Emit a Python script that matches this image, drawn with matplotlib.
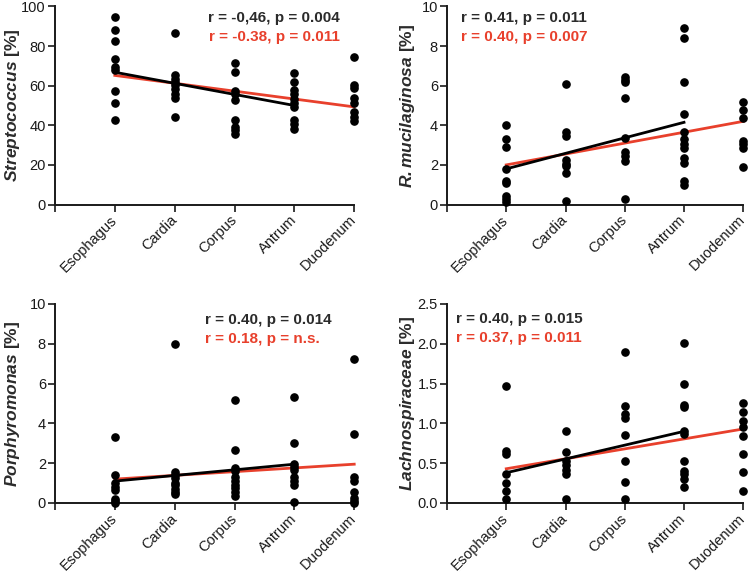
import matplotlib
matplotlib.use("Agg")
import matplotlib.pyplot as plt
import matplotlib.transforms as mtransforms

plt.rcParams["font.family"] = ["Liberation Sans", "DejaVu Sans"]
plt.rcParams["mathtext.fontset"] = "custom"
plt.rcParams["mathtext.bfit"] = "Liberation Sans:italic:bold"
plt.rcParams["mathtext.it"] = "Liberation Sans:italic"
plt.rcParams["mathtext.rm"] = "Liberation Sans"

# ── data ──────────────────────────────────────────────────────────────────────
sites = ["Esophagus", "Cardia", "Corpus", "Antrum", "Duodenum"]

strep = [
    [94.5, 88, 82.5, 73.5, 69.5, 68, 57.5, 51.5, 42.5],
    [86.5, 65.5, 63.5, 62, 60.5, 58.5, 56, 54, 44],
    [71.5, 67, 57.5, 56, 53, 42.5, 39, 37.5, 35.5],
    [66.5, 62, 58, 56, 53.5, 51.5, 49, 42.5, 40.5, 38],
    [74.5, 60.5, 59, 54, 51.5, 46.5, 44, 42],
]
strep_black = [66.8, 50.0]   # fit Esophagus..Antrum
strep_red = [65.2, 49.3]     # fit Esophagus..Duodenum

rmuc = [
    [4.0, 3.3, 2.9, 1.8, 1.2, 1.1, 0.45, 0.3, 0.15],
    [6.1, 3.65, 3.45, 2.25, 2.05, 1.95, 1.6, 0.2],
    [6.45, 6.3, 6.2, 5.4, 3.35, 2.65, 2.45, 2.2, 0.3],
    [8.9, 8.4, 6.2, 4.55, 3.65, 3.3, 3.05, 2.85, 2.35, 2.1, 1.2, 1.0],
    [5.2, 4.75, 4.35, 3.2, 3.05, 2.85, 1.9],
]
rmuc_black = [1.8, 4.15]
rmuc_red = [2.0, 4.2]

porph = [
    [3.3, 1.4, 1.0, 0.8, 0.65, 0.2, 0.1, 0.0],
    [8.0, 1.55, 1.4, 1.25, 1.0, 0.9, 0.7, 0.55, 0.45],
    [5.2, 2.65, 1.75, 1.6, 1.3, 1.1, 0.9, 0.75, 0.55, 0.35],
    [5.35, 3.0, 1.95, 1.8, 1.65, 1.3, 1.1, 0.9, 0.05],
    [7.25, 3.45, 1.3, 1.1, 0.55, 0.25, 0.1, 0.0],
]
porph_black = [1.1, 1.95]
porph_red = [1.2, 1.95]

lachno = [
    [1.47, 0.65, 0.61, 0.36, 0.25, 0.15, 0.05],
    [0.91, 0.64, 0.53, 0.48, 0.42, 0.36, 0.05],
    [1.9, 1.22, 1.12, 1.07, 0.85, 0.53, 0.27, 0.05],
    [2.01, 1.5, 1.23, 1.2, 0.9, 0.87, 0.53, 0.4, 0.36, 0.3, 0.2],
    [1.25, 1.14, 1.03, 0.96, 0.84, 0.62, 0.39, 0.15],
]
lachno_black = [0.38, 0.9]
lachno_red = [0.43, 0.93]

RED = "#e8402c"
DARK = "#2b2b2b"

panels = [
    dict(data=strep, black=strep_black, red=strep_red, ymax=100, ystep=20,
         label=r"$\mathbfit{Streptococcus}$ [%]",
         txt=("r = -0,46, p = 0.004", "r = -0.38, p = 0.011"),
         tx=0.953, ty=(0.942, 0.846), ha="right",
         rect=[0.0733, 0.6437, 0.399, 0.345], lx=-0.11),
    dict(data=rmuc, black=rmuc_black, red=rmuc_red, ymax=10, ystep=2,
         label=r"$\mathbfit{R. mucilaginosa}$ [%]",
         txt=("r = 0.41, p = 0.011", "r = 0.40, p = 0.007"),
         tx=0.047, ty=(0.942, 0.846), ha="left",
         rect=[0.596, 0.6437, 0.395, 0.345], lx=-0.10),
    dict(data=porph, black=porph_black, red=porph_red, ymax=10, ystep=2,
         label=r"$\mathbfit{Porphyromonas}$ [%]",
         txt=("r = 0.40, p = 0.014", "r = 0.18, p = n.s."),
         tx=0.50, ty=(0.92, 0.824), ha="left",
         rect=[0.0733, 0.1237, 0.399, 0.3467], lx=-0.11),
    dict(data=lachno, black=lachno_black, red=lachno_red, ymax=2.5, ystep=0.5,
         label=r"$\mathbfit{Lachnospiraceae}$ [%]",
         txt=("r = 0.40, p = 0.015", "r = 0.37, p = 0.011"),
         tx=0.03, ty=(0.925, 0.829), ha="left",
         rect=[0.596, 0.1237, 0.395, 0.3467], lx=-0.10),
]

# ── plot ──────────────────────────────────────────────────────────────────────
fig = plt.figure(figsize=(7.5, 5.74), dpi=100)
shift = mtransforms.ScaledTranslation(3 / 72, 0, fig.dpi_scale_trans)

for p in panels:
    ax = fig.add_axes(p["rect"])
    ax.plot([1, 5], p["red"], color=RED, lw=2.0, zorder=2, clip_on=False)
    ax.plot([1, 4], p["black"], color="black", lw=2.0, zorder=3, clip_on=False)
    for i, vals in enumerate(p["data"]):
        ax.plot([i + 1] * len(vals), vals, "o", color="black", ms=5.2,
                zorder=4, clip_on=False)

    ax.set_xlim(0, 5)
    ax.set_ylim(0, p["ymax"])
    n = int(round(p["ymax"] / p["ystep"]))
    yt = [k * p["ystep"] for k in range(n + 1)]
    ax.set_yticks(yt)
    if p["ystep"] < 1:
        ax.set_yticklabels([f"{v:.1f}" for v in yt])
    else:
        ax.set_yticklabels([f"{v:g}" for v in yt])
    ax.set_xticks(range(6))
    ax.set_xticklabels([""] + sites, rotation=45, ha="right",
                       rotation_mode="anchor", va="center")
    for lab in ax.get_xticklabels():
        lab.set_transform(lab.get_transform() + shift)

    for s in ("top", "right"):
        ax.spines[s].set_visible(False)
    for s in ("left", "bottom"):
        ax.spines[s].set_linewidth(1.4)
        ax.spines[s].set_color("#1a1a1a")
    ax.tick_params(axis="both", length=5, width=1.2, color="#1a1a1a",
                   labelsize=10.5, labelcolor="#1a1a1a")
    ax.tick_params(axis="y", pad=1.5)
    ax.tick_params(axis="x", pad=4.5)

    ax.set_ylabel(p["label"], fontsize=12.5, fontweight="bold", color=DARK)
    ax.yaxis.set_label_coords(p["lx"], 0.5)

    ax.text(p["tx"], p["ty"][0], p["txt"][0], transform=ax.transAxes,
            ha=p["ha"], va="center", fontsize=11, fontweight="bold", color=DARK)
    ax.text(p["tx"], p["ty"][1], p["txt"][1], transform=ax.transAxes,
            ha=p["ha"], va="center", fontsize=11, fontweight="bold", color=RED)

fig.savefig("out.png", dpi=100)
